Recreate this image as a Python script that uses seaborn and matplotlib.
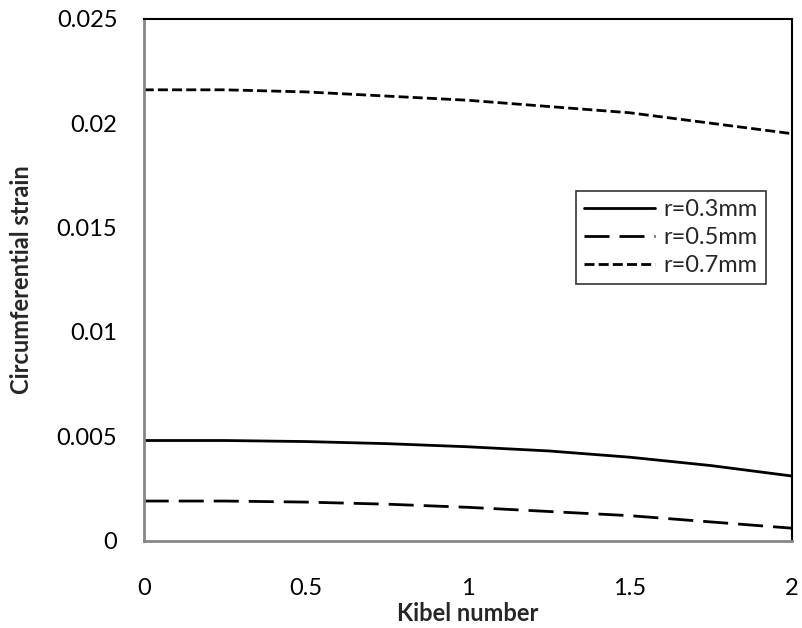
import numpy as np
import pandas as pd
import matplotlib
matplotlib.use("Agg")
import matplotlib.pyplot as plt
import seaborn as sns

kibel = [0.0, 0.25, 0.5, 0.75, 1.0, 1.25, 1.5, 1.75, 2.0]
strain_r03 = [0.0048, 0.0048, 0.00475, 0.00465, 0.0045, 0.0043, 0.0040, 0.0036, 0.0031]
strain_r05 = [0.0019, 0.0019, 0.00185, 0.00175, 0.0016, 0.0014, 0.0012, 0.0009, 0.0006]
strain_r07 = [0.0216, 0.0216, 0.0215, 0.0213, 0.0211, 0.0208, 0.0205, 0.0200, 0.0195]
labels = ["r=0.3mm", "r=0.5mm", "r=0.7mm"]
xticks = [0, 0.5, 1, 1.5, 2]
xticklabels = ["0", "0.5", "1", "1.5", "2"]
yticks = [0, 0.005, 0.01, 0.015, 0.02, 0.025]
yticklabels = ["0", "0.005", "0.01", "0.015", "0.02", "0.025"]

df = pd.DataFrame({
    "Kibel number": kibel * 3,
    "strain": strain_r03 + strain_r05 + strain_r07,
    "series": [labels[0]] * len(kibel) + [labels[1]] * len(kibel) + [labels[2]] * len(kibel),
})

sns.set_theme(style="white")
plt.rcParams["font.family"] = ["Lato", "DejaVu Sans"]

fig = plt.figure(figsize=(8.03, 6.28), dpi=100)
ax = fig.add_axes([0.179, 0.139, 0.807, 0.831])

dashes = {labels[0]: "", labels[1]: (9, 3.6), labels[2]: (3.6, 1.5)}
sns.lineplot(data=df, x="Kibel number", y="strain", hue="series", style="series",
             palette=["black"] * 3, dashes=dashes, linewidth=2, ax=ax, legend=True)

ax.set_xlim(0, 2)
ax.set_ylim(0, 0.025)
ax.set_xticks(xticks)
ax.set_xticklabels(xticklabels)
ax.set_yticks(yticks)
ax.set_yticklabels(yticklabels)
ax.tick_params(axis="both", length=0, labelsize=17, colors="black")
ax.tick_params(axis="x", pad=27)
ax.tick_params(axis="y", pad=19)
ax.set_xlabel("Kibel number", fontsize=17, fontweight="bold", labelpad=2)
ax.set_ylabel("Circumferential strain", fontsize=17, fontweight="bold", labelpad=17)

for s in ["left", "bottom"]:
    ax.spines[s].set_color("#868686")
    ax.spines[s].set_linewidth(2)
for s in ["top", "right"]:
    ax.spines[s].set_color("black")
    ax.spines[s].set_linewidth(1.5)

leg = ax.legend(loc="upper left", bbox_to_anchor=(0.667, 0.6705), fontsize=17,
                handlelength=3.0, handletextpad=0.35, borderpad=0.35, labelspacing=0.3,
                borderaxespad=0, frameon=True, fancybox=False, title=None)
leg.get_frame().set_edgecolor("black")
leg.get_frame().set_linewidth(1.2)

fig.savefig("out.png", dpi=100, facecolor="white")
